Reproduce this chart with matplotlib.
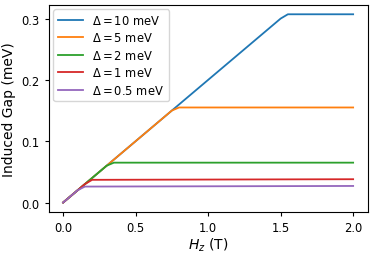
import numpy as np
import matplotlib.pyplot as plt

# field values (T) and induced gap (meV) for each bulk gap
h_10 = [0.0, 0.5, 1.0, 1.5, 1.55, 2.0]
g_10 = [0.0, 0.1, 0.2, 0.3, 0.307, 0.307]

h_5 = [0.0, 0.5, 0.75, 0.8, 2.0]
g_5 = [0.0, 0.1, 0.15, 0.155, 0.155]

h_2 = [0.0, 0.3, 0.35, 2.0]
g_2 = [0.0, 0.06, 0.065, 0.065]

h_1 = [0.0, 0.15, 0.2, 2.0]
g_1 = [0.0, 0.03, 0.037, 0.038]

h_05 = [0.0, 0.1, 0.15, 2.0]
g_05 = [0.0, 0.02, 0.026, 0.027]

labels = [r"$\Delta = 10$ meV", r"$\Delta = 5$ meV", r"$\Delta = 2$ meV",
          r"$\Delta = 1$ meV", r"$\Delta = 0.5$ meV"]

fig, ax = plt.subplots(figsize=(3.74, 2.55), dpi=100)
fig.subplots_adjust(left=0.13, right=0.983, top=0.977, bottom=0.165)

ax.plot(h_10, g_10, label=labels[0], lw=1.3)
ax.plot(h_5, g_5, label=labels[1], lw=1.3)
ax.plot(h_2, g_2, label=labels[2], lw=1.3)
ax.plot(h_1, g_1, label=labels[3], lw=1.3)
ax.plot(h_05, g_05, label=labels[4], lw=1.3)

ax.set_xticks([0.0, 0.5, 1.0, 1.5, 2.0])
ax.set_yticks([0.0, 0.1, 0.2, 0.3])
ax.tick_params(labelsize=8.3, length=3)
ax.set_xlabel(r"$H_z$ (T)", fontsize=10, labelpad=1)
ax.set_ylabel("Induced Gap (meV)", fontsize=10, labelpad=4)
ax.legend(loc="upper left", fontsize=8.3, handlelength=2.2, labelspacing=0.38,
          borderaxespad=0.4)

fig.savefig("out.png")
